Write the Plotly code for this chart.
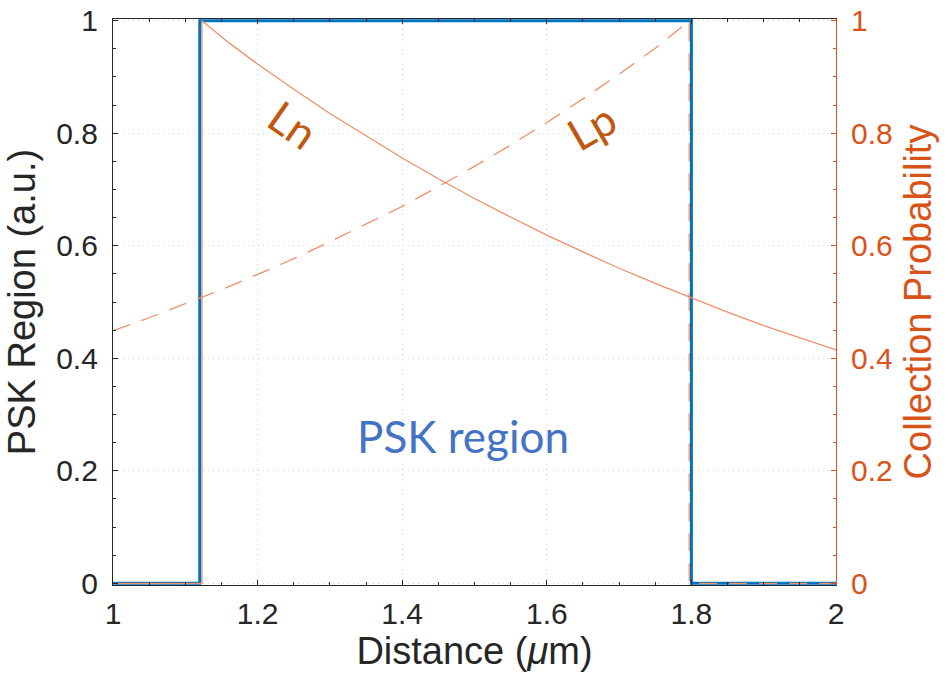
import plotly.graph_objects as go

# PSK region indicator (step profile)
psk_x = [1.0, 1.12, 1.12, 1.80, 1.80, 2.0]
psk_y = [0.0, 0.0, 1.0, 1.0, 0.0, 0.0]

# Electron collection probability (Ln), decays away from the front interface
ln_x = [1.0, 1.123, 1.123, 1.16, 1.20, 1.25, 1.30, 1.35, 1.40, 1.45, 1.50, 1.55,
        1.60, 1.65, 1.70, 1.75, 1.80, 1.85, 1.90, 1.95, 2.00]
ln_y = [0.0, 0.0, 1.000, 0.961, 0.923, 0.878, 0.835, 0.795, 0.756, 0.719, 0.684, 0.651,
        0.619, 0.589, 0.560, 0.533, 0.507, 0.482, 0.458, 0.436, 0.415]

# Hole collection probability (Lp), rises toward the back interface
lp_x = [1.00, 1.05, 1.10, 1.15, 1.20, 1.25, 1.30, 1.35, 1.40, 1.45, 1.50, 1.55,
        1.60, 1.65, 1.70, 1.75, 1.797, 1.797, 2.0]
lp_y = [0.449, 0.472, 0.497, 0.522, 0.549, 0.577, 0.607, 0.638, 0.670, 0.705, 0.741, 0.779,
        0.819, 0.861, 0.905, 0.951, 1.000, 0.0, 0.0]

x_ticks = [1, 1.2, 1.4, 1.6, 1.8, 2]
x_tick_text = ["1", "1.2", "1.4", "1.6", "1.8", "2"]
y_ticks = [0, 0.2, 0.4, 0.6, 0.8, 1]
y_tick_text = ["0", "0.2", "0.4", "0.6", "0.8", "1"]

BLUE = "#0072BD"
ORANGE = "#D95319"
CURVE = "#EE8F68"
LABEL = "#C0590F"
AXIS = "#262626"
FONT = "Liberation Sans, Arial, sans-serif"
LABEL_FONT = "Lato, Open Sans, sans-serif"

fig = go.Figure()

fig.add_trace(go.Scatter(x=psk_x, y=psk_y, mode="lines",
                         line=dict(color=BLUE, width=3), showlegend=False))
fig.add_trace(go.Scatter(x=ln_x, y=ln_y, mode="lines", yaxis="y2",
                         line=dict(color=CURVE, width=1.3), showlegend=False))
fig.add_trace(go.Scatter(x=lp_x, y=lp_y, mode="lines", yaxis="y2",
                         line=dict(color=CURVE, width=1.3, dash="18px,12px"),
                         showlegend=False))

fig.add_annotation(x=1.484, y=0.262, text="PSK region", showarrow=False,
                   font=dict(family=LABEL_FONT, size=44, color="#4472C4"))
fig.add_annotation(x=1.249, y=0.817, text="Ln", showarrow=False, textangle=35,
                   font=dict(family=LABEL_FONT, size=44, color=LABEL))
fig.add_annotation(x=1.662, y=0.812, text="Lp", showarrow=False, textangle=-30,
                   font=dict(family=LABEL_FONT, size=44, color=LABEL))

yr = [-0.003, 1.003]
GRID = dict(showgrid=True, gridcolor="#D4D4D4", griddash="1px,4px", gridwidth=1)

fig.update_layout(
    width=948, height=689,
    margin=dict(l=113, r=112, t=19, b=104),
    plot_bgcolor="white", paper_bgcolor="white",
    font=dict(family=FONT, size=30, color=AXIS),
    xaxis=dict(
        range=[1, 2], tickvals=x_ticks, ticktext=x_tick_text,
        showline=True, linecolor=AXIS, linewidth=1.2, mirror="ticks",
        ticks="inside", ticklen=5, tickcolor=AXIS,
        minor=dict(dtick=0.05, tick0=1, ticks="inside", ticklen=3, tickcolor=AXIS,
                   showgrid=False),
        zeroline=False, ticklabelstandoff=2, automargin=False,
        title=dict(text="Distance (<i>μ</i>m)", font=dict(size=38, color=AXIS), standoff=6),
        tickfont=dict(size=30, color=AXIS),
        **GRID,
    ),
    yaxis=dict(
        range=yr, tickvals=y_ticks, ticktext=y_tick_text,
        showline=True, linecolor=AXIS, linewidth=1.2,
        ticks="inside", ticklen=5, tickcolor=AXIS,
        minor=dict(dtick=0.05, tick0=0, ticks="inside", ticklen=3, tickcolor=AXIS,
                   showgrid=False),
        zeroline=False, ticklabelstandoff=8, automargin=False,
        title=dict(text="PSK Region (a.u.)", font=dict(size=38, color=AXIS), standoff=8),
        tickfont=dict(size=30, color=AXIS),
        **GRID,
    ),
    yaxis2=dict(
        range=yr, tickvals=y_ticks, ticktext=y_tick_text,
        overlaying="y", side="right",
        showline=True, linecolor=ORANGE, linewidth=1.2,
        ticks="inside", ticklen=5, tickcolor=ORANGE,
        minor=dict(dtick=0.05, tick0=0, ticks="inside", ticklen=3, tickcolor=ORANGE,
                   showgrid=False),
        showgrid=False, zeroline=False, ticklabelstandoff=8, automargin=False,
        title=dict(text="Collection Probability", font=dict(size=38, color=ORANGE), standoff=12),
        tickfont=dict(size=30, color=ORANGE),
    ),
)

fig.write_html("out.html")
